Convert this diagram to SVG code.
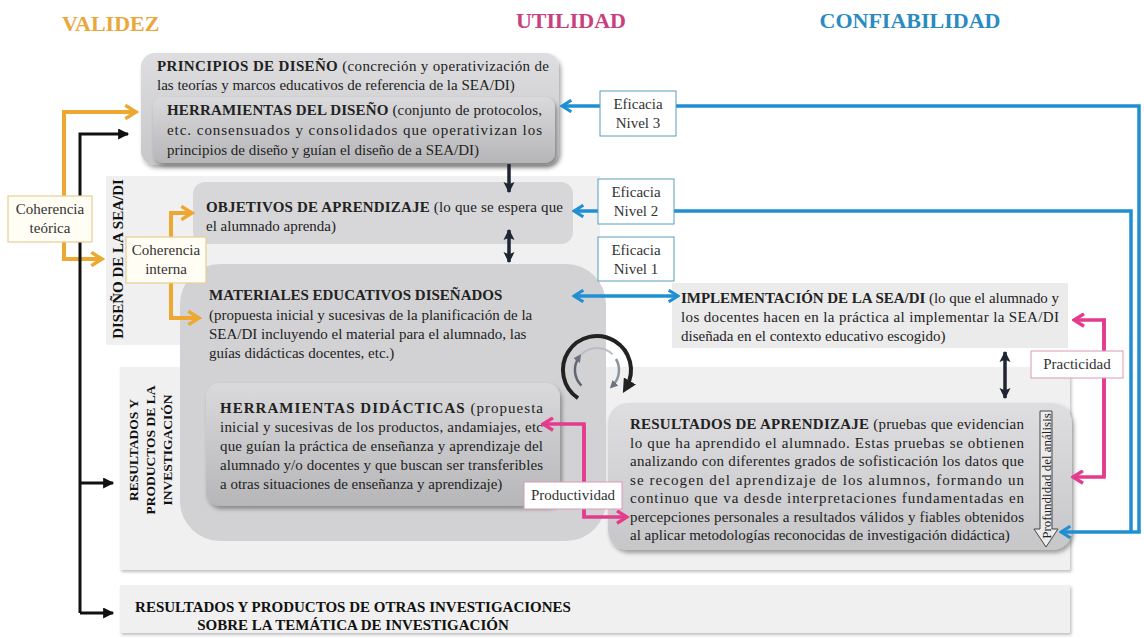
<svg xmlns="http://www.w3.org/2000/svg" width="1144" height="638" viewBox="0 0 1144 638" font-family="'Liberation Serif', 'DejaVu Serif', serif">
  <defs>
    <style>
      text { font-family: "Liberation Serif", "Times New Roman", Times, "DejaVu Serif", serif; fill: #222; }
      .t { font-size: 15px; }
      .b { font-weight: bold; }
      .title { font-size: 22px; font-weight: bold; }
      .lbl { font-size: 15px; text-anchor: middle; fill: #333; }
      .side { font-size: 15px; font-weight: bold; text-anchor: middle; fill: #111; }
      .side2 { font-size: 13.5px; font-weight: bold; text-anchor: middle; fill: #111; }
      .panel { fill: #f0f0f0; }
      .blue { fill: none; stroke: #1f8fd2; stroke-width: 3.5; }
      .orange { fill: none; stroke: #eda832; stroke-width: 4; }
      .pink { fill: none; stroke: #e43b8d; stroke-width: 3.5; }
      .black { fill: none; stroke: #111; stroke-width: 3; }
      .navy { fill: none; stroke: #1e2633; stroke-width: 3.5; }
      .effbox { fill: #fff; stroke: #5a9cb8; stroke-width: 1; }
      .cohbox { fill: #fffdf4; stroke: #e6cf95; stroke-width: 1.2; }
      .pinkbox { fill: #fff; stroke: #d99ab8; stroke-width: 1; }
    </style>
    <linearGradient id="gBox" x1="0" y1="0" x2="0" y2="1">
      <stop offset="0" stop-color="#dedee0"/>
      <stop offset="1" stop-color="#c7c7c9"/>
    </linearGradient>
    <linearGradient id="gTool" x1="0" y1="0" x2="0" y2="1">
      <stop offset="0" stop-color="#dadadc"/>
      <stop offset="1" stop-color="#b6b6b8"/>
    </linearGradient>
    <filter id="sh" x="-10%" y="-10%" width="125%" height="135%">
      <feDropShadow dx="2" dy="3" stdDeviation="2" flood-color="#000" flood-opacity="0.35"/>
    </filter>
    <filter id="shSoft" x="-5%" y="-5%" width="110%" height="115%">
      <feDropShadow dx="1.5" dy="2" stdDeviation="1.5" flood-color="#000" flood-opacity="0.25"/>
    </filter>
    <!-- chevron heads -->
    <marker id="chBlue" viewBox="0 0 12 12" refX="10" refY="6" markerWidth="14" markerHeight="14" markerUnits="userSpaceOnUse" orient="auto-start-reverse">
      <path d="M2,1 L10,6 L2,11" fill="none" stroke="#1f8fd2" stroke-width="2.6"/>
    </marker>
    <marker id="chOrange" viewBox="0 0 12 12" refX="10" refY="6" markerWidth="16" markerHeight="16" markerUnits="userSpaceOnUse" orient="auto-start-reverse">
      <path d="M2,1 L10,6 L2,11" fill="none" stroke="#eda832" stroke-width="2.6"/>
    </marker>
    <marker id="chPink" viewBox="0 0 12 12" refX="10" refY="6" markerWidth="15" markerHeight="15" markerUnits="userSpaceOnUse" orient="auto-start-reverse">
      <path d="M2,1 L10,6 L2,11" fill="none" stroke="#e43b8d" stroke-width="2.6"/>
    </marker>
    <!-- filled heads -->
    <marker id="triBlack" viewBox="0 0 10 10" refX="9" refY="5" markerWidth="13" markerHeight="11" markerUnits="userSpaceOnUse" orient="auto-start-reverse">
      <path d="M0,0 L10,5 L0,10 Z" fill="#111"/>
    </marker>
    <marker id="triNavy" viewBox="0 0 10 10" refX="9" refY="5" markerWidth="11" markerHeight="12" markerUnits="userSpaceOnUse" orient="auto-start-reverse">
      <path d="M0,0 L10,5 L0,10 L2,5 Z" fill="#1e2633"/>
    </marker>
    <marker id="triCycle" viewBox="0 0 10 10" refX="5" refY="5" markerWidth="14" markerHeight="14" markerUnits="userSpaceOnUse" orient="auto">
      <path d="M0,0 L10,5 L0,10 Z" fill="#222"/>
    </marker>
    <marker id="triCycleG" viewBox="0 0 10 10" refX="5" refY="5" markerWidth="8" markerHeight="8" markerUnits="userSpaceOnUse" orient="auto">
      <path d="M0,0 L10,5 L0,10 Z" fill="#6b7280"/>
    </marker>
  </defs>

  <rect width="1144" height="638" fill="#ffffff"/>

  <!-- criteria headings -->
  <g id="headings">
    <text class="title" x="62" y="31" style="fill:#eaa83c">VALIDEZ</text>
    <text class="title" x="571" y="28" text-anchor="middle" style="fill:#c8417e">UTILIDAD</text>
    <text class="title" x="910" y="28" text-anchor="middle" style="fill:#2b8ac0">CONFIABILIDAD</text>
  </g>

  <!-- background panels -->
  <g id="panel-diseno">
    <rect class="panel" x="106" y="176" width="494" height="169"/>
    <text class="side" transform="translate(123,259) rotate(-90)">DISEÑO DE LA SEA/DI</text>
  </g>
  <g id="panel-resultados">
    <rect class="panel" x="120" y="367" width="950" height="203" filter="url(#shSoft)"/>
    <text class="side2" transform="translate(138,450) rotate(-90)">RESULTADOS Y</text>
    <text class="side2" transform="translate(155,450) rotate(-90)">PRODUCTOS DE LA</text>
    <text class="side2" transform="translate(172,450) rotate(-90)">INVESTIGACIÓN</text>
  </g>
  <g id="panel-otras">
    <rect class="panel" x="120" y="585" width="950" height="48" filter="url(#shSoft)"/>
    <text class="side" x="353" y="612">RESULTADOS Y PRODUCTOS DE OTRAS INVESTIGACIONES</text>
    <text class="side" x="353" y="630">SOBRE LA TEMÁTICA DE INVESTIGACIÓN</text>
  </g>

  <!-- design principles and design tools -->
  <g id="principios">
    <rect x="141" y="53" width="418" height="112" rx="14" fill="url(#gBox)" filter="url(#sh)"/>
    <text class="t" x="157" y="71" textLength="392" lengthAdjust="spacing"><tspan class="b">PRINCIPIOS DE DISEÑO</tspan> (concreción y operativización de</text>
    <text class="t" x="157" y="90">las teorías y marcos educativos de referencia de la SEA/DI)</text>
  </g>
  <g id="herramientas-diseno">
    <rect x="153" y="97" width="402" height="66" rx="10" fill="url(#gTool)" filter="url(#sh)"/>
    <text class="t" x="167" y="115" textLength="375" lengthAdjust="spacing"><tspan class="b">HERRAMIENTAS DEL DISEÑO</tspan> (conjunto de protocolos,</text>
    <text class="t" x="167" y="135" textLength="375" lengthAdjust="spacing">etc. consensuados y consolidados que operativizan los</text>
    <text class="t" x="167" y="155">principios de diseño y guían el diseño de a SEA/DI)</text>
  </g>

  <g id="objetivos">
    <rect x="193" y="182" width="380" height="62" rx="12" fill="#d7d7d9"/>
    <text class="t" x="206" y="212" textLength="357" lengthAdjust="spacing"><tspan class="b">OBJETIVOS DE APRENDIZAJE</tspan> (lo que se espera que</text>
    <text class="t" x="206" y="231">el alumnado aprenda)</text>
  </g>

  <g id="materiales">
    <rect x="180" y="264" width="426" height="277" rx="40" fill="#d2d2d4"/>
    <text class="t b" x="209" y="300">MATERIALES EDUCATIVOS DISEÑADOS</text>
    <text class="t" x="209" y="320">(propuesta inicial y sucesivas de la planificación de la</text>
    <text class="t" x="209" y="339">SEA/DI incluyendo el material para el alumnado, las</text>
    <text class="t" x="209" y="358">guías didácticas docentes, etc.)</text>
  </g>

  <g id="herramientas-didacticas">
    <rect x="206" y="383" width="354" height="123" rx="14" fill="url(#gTool)" filter="url(#sh)"/>
    <text class="t" x="220" y="413" textLength="323" lengthAdjust="spacing"><tspan class="b">HERRAMIENTAS DIDÁCTICAS</tspan> (propuesta</text>
    <text class="t" x="220" y="432" textLength="323" lengthAdjust="spacing">inicial y sucesivas de los productos, andamiajes, etc</text>
    <text class="t" x="220" y="451" textLength="323" lengthAdjust="spacing">que guían la práctica de enseñanza y aprendizaje del</text>
    <text class="t" x="220" y="470" textLength="323" lengthAdjust="spacing">alumnado y/o docentes y que buscan ser transferibles</text>
    <text class="t" x="220" y="489">a otras situaciones de enseñanza y aprendizaje)</text>
  </g>

  <g id="implementacion">
    <rect x="672" y="283" width="396" height="65" fill="#ebebeb"/>
    <text class="t" x="681" y="303" textLength="378" lengthAdjust="spacing"><tspan class="b">IMPLEMENTACIÓN DE LA SEA/DI</tspan> (lo que el alumnado y</text>
    <text class="t" x="681" y="322" textLength="378" lengthAdjust="spacing">los docentes hacen en la práctica al implementar la SEA/DI</text>
    <text class="t" x="681" y="341">diseñada en el contexto educativo escogido)</text>
  </g>

  <g id="resultados-aprendizaje">
    <rect x="608" y="403" width="464" height="147" rx="20" fill="url(#gBox)" filter="url(#sh)"/>
    <text class="t" x="630" y="429" textLength="394" lengthAdjust="spacing"><tspan class="b">RESULTADOS DE APRENDIZAJE</tspan> (pruebas que evidencian</text>
    <text class="t" x="630" y="447.5" textLength="394" lengthAdjust="spacing">lo que ha aprendido el alumnado. Estas pruebas se obtienen</text>
    <text class="t" x="630" y="466" textLength="394" lengthAdjust="spacing">analizando con diferentes grados de sofisticación los datos que</text>
    <text class="t" x="630" y="484.5" textLength="394" lengthAdjust="spacing">se recogen del aprendizaje de los alumnos, formando un</text>
    <text class="t" x="630" y="503" textLength="394" lengthAdjust="spacing">continuo que va desde interpretaciones fundamentadas en</text>
    <text class="t" x="630" y="521.5" textLength="394" lengthAdjust="spacing">percepciones personales a resultados válidos y fiables obtenidos</text>
    <text class="t" x="630" y="540">al aplicar metodologías reconocidas de investigación didáctica)</text>
    <!-- depth-of-analysis arrow -->
    <path d="M1040,411 H1052 V529 H1058 L1046,547 L1034,529 H1040 Z" fill="#ececec" stroke="#444" stroke-width="1"/>
    <text style="font-size:13px" text-anchor="middle" transform="translate(1050.5,476) rotate(-90)">Profundidad del análisis</text>
  </g>

  <!-- connectors -->
  <g id="connectors">
    <!-- validity (orange) -->
    <polyline class="orange" points="64,259 64,112 136,112" marker-end="url(#chOrange)"/>
    <polyline class="orange" points="64,200 64,259 102,259" marker-end="url(#chOrange)"/>
    <polyline class="orange" points="171,260 171,213 192,213" marker-end="url(#chOrange)"/>
    <polyline class="orange" points="171,260 171,318 199,318" marker-end="url(#chOrange)"/>

    <!-- research products (black) -->
    <polyline class="black" points="80,613 80,134 128,134" marker-end="url(#triBlack)"/>
    <line class="black" x1="80" y1="483" x2="113" y2="483" marker-end="url(#triBlack)"/>
    <line class="black" x1="80" y1="613" x2="113" y2="613" marker-end="url(#triBlack)"/>

    <!-- flow between design elements -->
    <line class="navy" x1="509" y1="164" x2="509" y2="192" marker-end="url(#triNavy)"/>
    <line class="navy" x1="509" y1="230" x2="509" y2="262" marker-start="url(#triNavy)" marker-end="url(#triNavy)"/>
    <line class="navy" x1="1005" y1="352" x2="1005" y2="398" marker-start="url(#triNavy)" marker-end="url(#triNavy)"/>

    <!-- reliability (blue) -->
    <polyline class="blue" points="1139,532 1139,106 562,106" marker-end="url(#chBlue)"/>
    <polyline class="blue" points="1131,532 1131,211 574,211" marker-end="url(#chBlue)"/>
    <line class="blue" x1="1140.75" y1="532" x2="1061" y2="532" marker-end="url(#chBlue)"/>
    <line class="blue" x1="574" y1="296" x2="678" y2="296" marker-start="url(#chBlue)" marker-end="url(#chBlue)"/>

    <!-- utility (pink) -->
    <polyline class="pink" points="1104,477 1104,320 1074,320" marker-end="url(#chPink)"/>
    <polyline class="pink" points="1104,318.5 1104,477 1073,477" marker-end="url(#chPink)"/>
    <polyline class="pink" points="584,517 584,424 543,424" marker-end="url(#chPink)"/>
    <polyline class="pink" points="584,425.5 584,517 627,517" marker-end="url(#chPink)"/>
  </g>

  <!-- iteration cycle -->
  <g id="ciclo">
    <path d="M578,398.2 A34,34 0 1 1 626.4,387" fill="none" stroke="#222" stroke-width="4" marker-end="url(#triCycle)"/>
    <path d="M581.4,385.6 A22,22 0 0 1 578.9,357.4" fill="none" stroke="#5d6472" stroke-width="2.5" marker-end="url(#triCycleG)"/>
    <path d="M581.4,354.4 A22,22 0 0 1 612.6,354.4" fill="none" stroke="#b9bec6" stroke-width="2"/>
    <path d="M616,359 A22,22 0 0 1 612.6,385.6" fill="none" stroke="#8d949e" stroke-width="2.5" marker-end="url(#triCycleG)"/>
  </g>

  <!-- criterion labels -->
  <g id="eficacia-3">
    <rect class="effbox" x="600" y="91" width="76" height="45"/>
    <text class="lbl" x="638" y="109">Eficacia</text>
    <text class="lbl" x="638" y="128">Nivel 3</text>
  </g>
  <g id="eficacia-2">
    <rect class="effbox" x="598" y="179" width="76" height="45"/>
    <text class="lbl" x="636" y="197">Eficacia</text>
    <text class="lbl" x="636" y="216">Nivel 2</text>
  </g>
  <g id="eficacia-1">
    <rect class="effbox" x="598" y="237" width="76" height="44"/>
    <text class="lbl" x="636" y="255">Eficacia</text>
    <text class="lbl" x="636" y="274">Nivel 1</text>
  </g>
  <g id="coherencia-teorica">
    <rect class="cohbox" x="8" y="196" width="84" height="46"/>
    <text class="lbl" x="50" y="214">Coherencia</text>
    <text class="lbl" x="50" y="233">teórica</text>
  </g>
  <g id="coherencia-interna">
    <rect class="cohbox" x="126" y="237" width="80" height="46"/>
    <text class="lbl" x="166" y="255">Coherencia</text>
    <text class="lbl" x="166" y="274">interna</text>
  </g>
  <g id="productividad">
    <rect class="pinkbox" x="524" y="482" width="98" height="27"/>
    <text class="lbl" x="573" y="500">Productividad</text>
  </g>
  <g id="practicidad">
    <rect class="pinkbox" x="1031" y="351" width="92" height="27"/>
    <text class="lbl" x="1077" y="369">Practicidad</text>
  </g>
</svg>
